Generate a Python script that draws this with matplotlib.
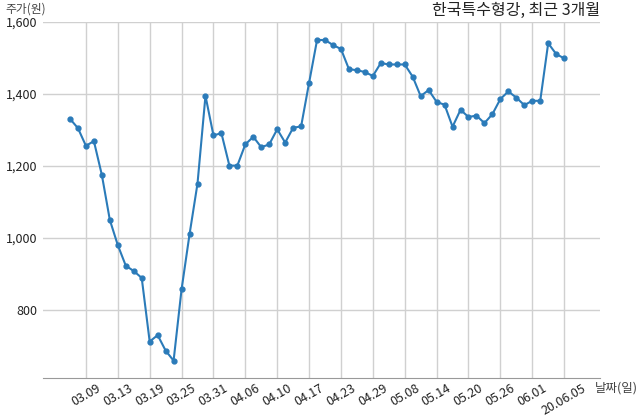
"""한국특수형강 3-month closing price line chart."""

import matplotlib

matplotlib.use("Agg")
import matplotlib.pyplot as plt
from matplotlib.ticker import FuncFormatter

plt.rcParams["font.family"] = ["Noto Sans CJK KR", "DejaVu Sans"]

TITLE = "한국특수형강, 최근 3개월"

# closing prices (원), one per trading day
prices = [
    1331, 1305, 1256, 1269, 1175, 1050, 980, 923, 908, 889,
    712, 730, 687, 659, 857, 1010, 1151, 1395, 1285, 1291,
    1201, 1201, 1260, 1281, 1252, 1260, 1302, 1265, 1306, 1310,
    1431, 1550, 1550, 1536, 1525, 1469, 1466, 1461, 1450, 1486,
    1482, 1482, 1482, 1448, 1394, 1411, 1378, 1370, 1309, 1356,
    1336, 1340, 1319, 1344, 1386, 1407, 1390, 1369, 1381, 1381,
    1541, 1511, 1499,
]
tick_positions = [2, 6, 10, 14, 18, 22, 26, 30, 34, 38, 42, 46, 50, 54, 58, 62]
tick_labels = [
    "03.09", "03.13", "03.19", "03.25", "03.31", "04.06", "04.10", "04.17",
    "04.23", "04.29", "05.08", "05.14", "05.20", "05.26", "06.01", "20.06.05",
]
y_ticks = [800, 1000, 1200, 1400, 1600]

fig = plt.figure(figsize=(6.4, 4.19), dpi=100)
ax = fig.add_axes([0.067, 0.098, 0.8705, 0.8495])

ax.plot(range(len(prices)), prices, color="#2b7bb9", linewidth=1.5,
        marker="o", markersize=3.5, zorder=3)

ax.set_xlim(-3.4, 66.5)
ax.set_ylim(611, 1600)
ax.set_yticks(y_ticks)
ax.yaxis.set_major_formatter(FuncFormatter(lambda v, _: f"{int(v):,}"))
ax.set_xticks(tick_positions)
ax.set_xticklabels(tick_labels, rotation=30, ha="center")

ax.grid(True, color="#d0d0d0", linewidth=1)
ax.set_axisbelow(True)
for side in ("left", "right", "top"):
    ax.spines[side].set_visible(False)
ax.spines["bottom"].set_color("#999999")
ax.tick_params(length=0, labelsize=9, colors="#222222")
ax.tick_params(axis="x", pad=3)
ax.tick_params(axis="y", pad=4)

fig.text(0.937, 0.955, TITLE, ha="right", va="bottom", fontsize=11.5, color="#222222")
fig.text(0.008, 0.962, "주가(원)", ha="left", va="bottom", fontsize=8.5, color="#444444")
fig.text(0.929, 0.075, "날짜(일)", ha="left", va="center", fontsize=9, color="#444444")

fig.savefig("out.png", dpi=100)
